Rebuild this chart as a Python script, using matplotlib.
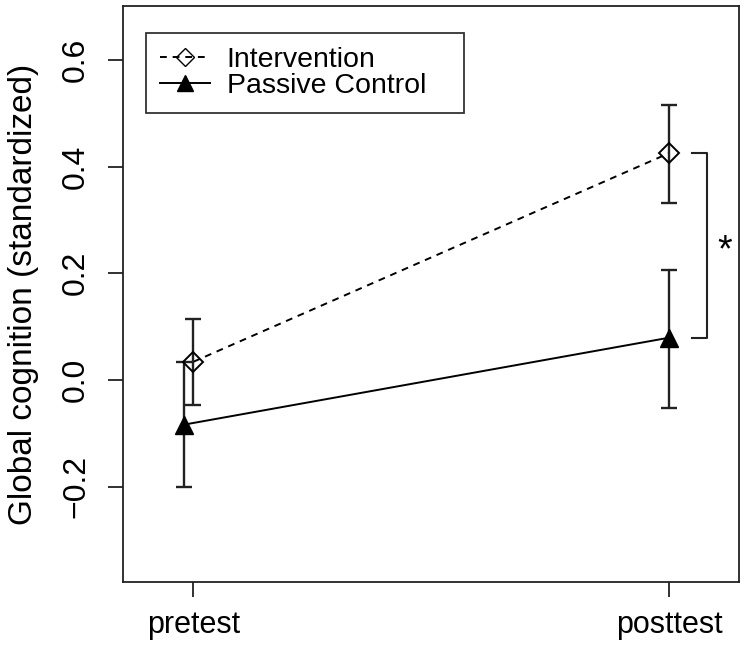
import numpy as np
import matplotlib.pyplot as plt

plt.rcParams['font.family'] = ['Liberation Sans', 'DejaVu Sans']

phases = ["pretest", "posttest"]
x_pos = [1, 2]

# means and error-bar ends
interv_mean = [0.034, 0.425]
interv_lo = [-0.047, 0.332]
interv_hi = [0.114, 0.515]

ctrl_mean = [-0.084, 0.079]
ctrl_lo = [-0.200, -0.052]
ctrl_hi = [0.034, 0.206]
ctrl_x = [0.98, 2.0]

fig = plt.figure(figsize=(7.46, 6.47), dpi=100)
ax = fig.add_axes([0.165, 0.1005, 0.826, 0.8902])

ink = "#222222"

im = np.array(interv_mean)
cm = np.array(ctrl_mean)

ax.plot(x_pos, im, ls=(0, (3.5, 3)), color="black", lw=1.4)
ax.plot(ctrl_x, cm, ls="-", color="black", lw=1.4)

ax.errorbar(x_pos, im, yerr=[im - np.array(interv_lo), np.array(interv_hi) - im],
            fmt="none", ecolor=ink, elinewidth=1.7, capsize=5.5, capthick=1.7)
ax.errorbar(ctrl_x, cm, yerr=[cm - np.array(ctrl_lo), np.array(ctrl_hi) - cm],
            fmt="none", ecolor=ink, elinewidth=1.7, capsize=5.5, capthick=1.7)

ax.plot(x_pos, im, ls="none", marker="D", ms=10.5, mfc="none", mec="black", mew=1.4)
ax.plot(ctrl_x, cm, ls="none", marker="^", ms=13, mfc="black", mec="black")

# significance bracket at posttest
bx0, bx1 = 2.048, 2.08
ax.plot([bx0, bx1, bx1, bx0], [im[1], im[1], cm[1], cm[1]], color=ink, lw=1.5)
ax.text(2.118, (im[1] + cm[1]) / 2 - 0.01, "*", fontsize=27, ha="center", va="center")

# legend
ax.plot([], [], ls=(0, (3.5, 3)), color="black", lw=1.4, marker="D", ms=9,
        mfc="none", mec="black", label="Intervention")
ax.plot([], [], ls="-", color="black", lw=1.4, marker="^", ms=11,
        mfc="black", label="Passive Control")
leg = ax.legend(loc="upper left", bbox_to_anchor=(0.037, 0.814, 0.516, 0.139),
                mode="expand", fontsize=20.5,
                frameon=True, fancybox=False, edgecolor="black", handlelength=1.75,
                handletextpad=0.6, borderpad=0.49, labelspacing=0.0, borderaxespad=0)
leg.get_frame().set_linewidth(1.3)

ax.set_xlim(0.852, 2.148)
ax.set_ylim(-0.379, 0.701)
ax.set_xticks(x_pos)
ax.set_xticklabels(phases)
ax.set_yticks([-0.2, 0.0, 0.2, 0.4, 0.6])
ax.set_yticklabels(["\u22120.2", "0.0", "0.2", "0.4", "0.6"], rotation=90, va="center")
ax.tick_params(axis="both", direction="out", length=11, width=1.3, colors=ink)
ax.tick_params(axis="x", pad=9, labelcolor="black", labelsize=22)
ax.tick_params(axis="y", pad=12, labelcolor="black", labelsize=23)
for s in ax.spines.values():
    s.set_linewidth(1.3)
    s.set_color(ink)

ax.set_ylabel("Global cognition (standardized)", fontsize=24, labelpad=16)

fig.savefig("out.png", dpi=100)
